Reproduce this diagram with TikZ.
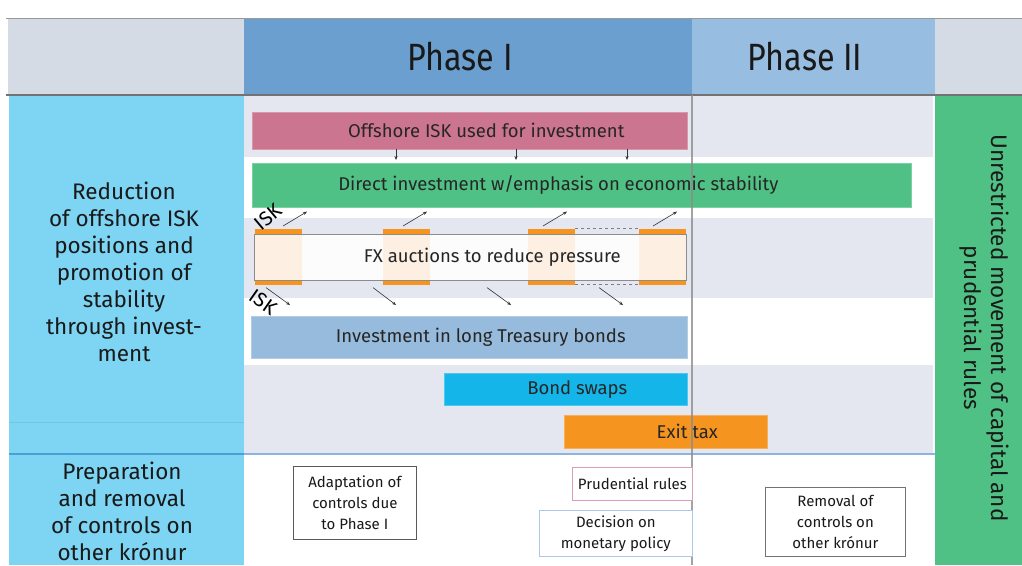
\documentclass[tikz,border=0pt]{standalone}
\usepackage{fontspec}
\setmainfont{Fira Sans}
\usetikzlibrary{arrows.meta,calc}
\definecolor{hdrgray}{HTML}{D5DBE5}
\definecolor{phaseone}{HTML}{6A9FCF}
\definecolor{phasetwo}{HTML}{97BDE0}
\definecolor{cyanc}{HTML}{7DD5F3}
\definecolor{rowgray}{HTML}{E4E7EF}
\definecolor{pinkc}{HTML}{CC7590}
\definecolor{greenc}{HTML}{50C185}
\definecolor{bluebar}{HTML}{97BBDC}
\definecolor{bondc}{HTML}{14B6EA}
\definecolor{exitc}{HTML}{F5941F}
\definecolor{orangec}{HTML}{F7941D}
\definecolor{lorange}{HTML}{FDF0E2}
\definecolor{divblue}{HTML}{8DB3E2}
\definecolor{divdark}{HTML}{4AA0D6}
\begin{document}
\begin{tikzpicture}[x=1pt,y=-1pt,
  bar/.style={rectangle, inner sep=0pt, anchor=north west, font=\fontsize{18.5}{21}\selectfont, text=black!85, line width=0.6pt},
  cbox/.style={rectangle, inner sep=0pt, anchor=north west, font=\fontsize{15}{21}\selectfont, align=center, fill=white, line width=0.7pt, text=black!90},
  conn/.style={-{Stealth[length=4pt,width=3.2pt]}, line width=0.6pt, black!80},
  side/.style={font=\fontsize{22.5}{27}\selectfont, align=center, text=black!90, inner sep=0pt},
  phase/.style={font=\fontsize{38}{40}\selectfont, text=black!90, inner sep=0pt},
  isk/.style={font=\fontsize{20}{21}\selectfont, inner sep=0pt, text=black},
  orangecap/.style={fill=orangec, draw=none},
]
\useasboundingbox (0,0) rectangle (1022,565);
\fill[white] (0,0) rectangle (1022,565);
% header
\fill[hdrgray] (8,18) rectangle (1022,95);
\fill[phaseone] (244,18) rectangle (692,95);
\fill[phasetwo] (692,18) rectangle (935,95);
\draw[black!40, line width=0.8pt] (6,18) -- (1022,18);
\node[phase] (ph1) at (460,57) {\scalebox{0.85}[1]{Phase I}};
\node[phase] (ph2) at (805,57) {\scalebox{0.85}[1]{Phase II}};
% left column
\fill[cyanc] (9,96) rectangle (244,565);
\draw[cyanc!92!black, line width=0.5pt] (9,422) -- (244,422);
% row stripes
\fill[rowgray] (244,96) rectangle (933,157);
\fill[rowgray] (244,218) rectangle (933,298);
\fill[rowgray] (244,365) rectangle (933,453);
% right green column
\fill[greenc] (935,95) rectangle (1022,565);
\draw[black!55, line width=1.6pt] (6,95) -- (1022,95);
% divider
\draw[divblue, line width=1.5pt] (244,454) -- (935,454);
\draw[divdark, line width=1.5pt] (9,454) -- (244,454);
% side texts
\node[side] (lt1) at (124,272) {Reduction\\of offshore ISK\\positions and\\promotion of\\stability\\through invest-\\ment};
\node[side] (lt2) at (122,511) {Preparation\\and removal\\of controls on\\other krónur};
\node[side, rotate=-90] (rt) at (984,328) {Unrestricted movement of capital and\\prudential rules};
% bars
\node[bar, fill=pinkc, draw=pinkc!75!white, minimum width=435pt, minimum height=37pt] (pink) at (252,112) {\hspace*{33pt}Offshore ISK used for investment};
\node[bar, fill=greenc, draw=greenc!75!white, minimum width=659pt, minimum height=44pt] (green) at (252,163) {Direct investment w/emphasis on economic stability\hspace*{47pt}};
% FX auctions
\fill[white!99!black] (254,234) rectangle (686,280);
\foreach \a in {255,383,528,639}{
  \fill[lorange] (\a,234) rectangle ++(47,46);
}
\node[bar, draw=black!45, minimum width=432pt, minimum height=46pt] (fx) at (254,234) {\hspace*{44pt}FX auctions to reduce pressure};
\foreach \a in {255,383,528,639}{
  \fill[orangecap] (\a,228.5) rectangle ++(47,5.5);
  \fill[orangecap] (\a,280.5) rectangle ++(47,4.5);
}
\draw[black!50, dashed, line width=0.6pt] (575,228.5) -- (639,228.5);
\draw[black!50, dashed, line width=0.6pt] (575,284) -- (639,284);
\node[bar, fill=bluebar, draw=bluebar!75!white, minimum width=436pt, minimum height=42pt] (blue) at (251,316) {\hspace*{23pt}Investment in long Treasury bonds};
\node[bar, fill=bondc, draw=bondc!75!white, minimum width=243pt, minimum height=32pt] (bond) at (444,373) {\hspace*{23pt}Bond swaps};
\node[bar, fill=exitc, draw=exitc!75!white, minimum width=203pt, minimum height=33pt] (exit) at (564,415) {\hspace*{43pt}Exit tax};
% arrows pink -> green
\foreach \dx in {144,264,375}{
  \draw[conn] ($(pink.south west)+(\dx,-1)$) -- ($(green.north west)+(\dx,-3)$);
}
% arrows fx -> green
\foreach \dx/\ex in {29/55,149/175,289/315,399/425}{
  \draw[conn] ($(fx.north west)+(\dx,-8)$) -- ($(green.south west)+(\ex,4)$);
}
% arrows fx -> blue
\foreach \sx/\ex in {12/39,119/145,233/260,345/372}{
  \draw[conn] ($(fx.south west)+(\sx,7)$) -- ($(blue.north west)+(\ex,-11)$);
}
\node[isk, rotate=40] (isk1) at (268,217) {ISK};
\node[isk, rotate=-35] (isk2) at (263,302) {ISK};
% phase boundary line
\draw[black!45, opacity=0.8, line width=1.1pt] (692,95) -- (692,565);
% bottom boxes
\node[cbox, draw=black!65, minimum width=123pt, minimum height=73pt] (adapt) at (293,466) {Adaptation of\\controls due\\to Phase I};
\node[cbox, draw=pinkc!70!white, minimum width=120pt, minimum height=33pt] (prud) at (572,467) {Prudential rules};
\node[cbox, draw=phasetwo!80!white, minimum width=153pt, minimum height=46pt] (dec) at (539,510) {Decision on\\monetary policy};
\node[cbox, draw=black!55, minimum width=140pt, minimum height=69pt] (remov) at (765,487) {Removal of\\controls on\\other krónur};
\end{tikzpicture}
\end{document}
